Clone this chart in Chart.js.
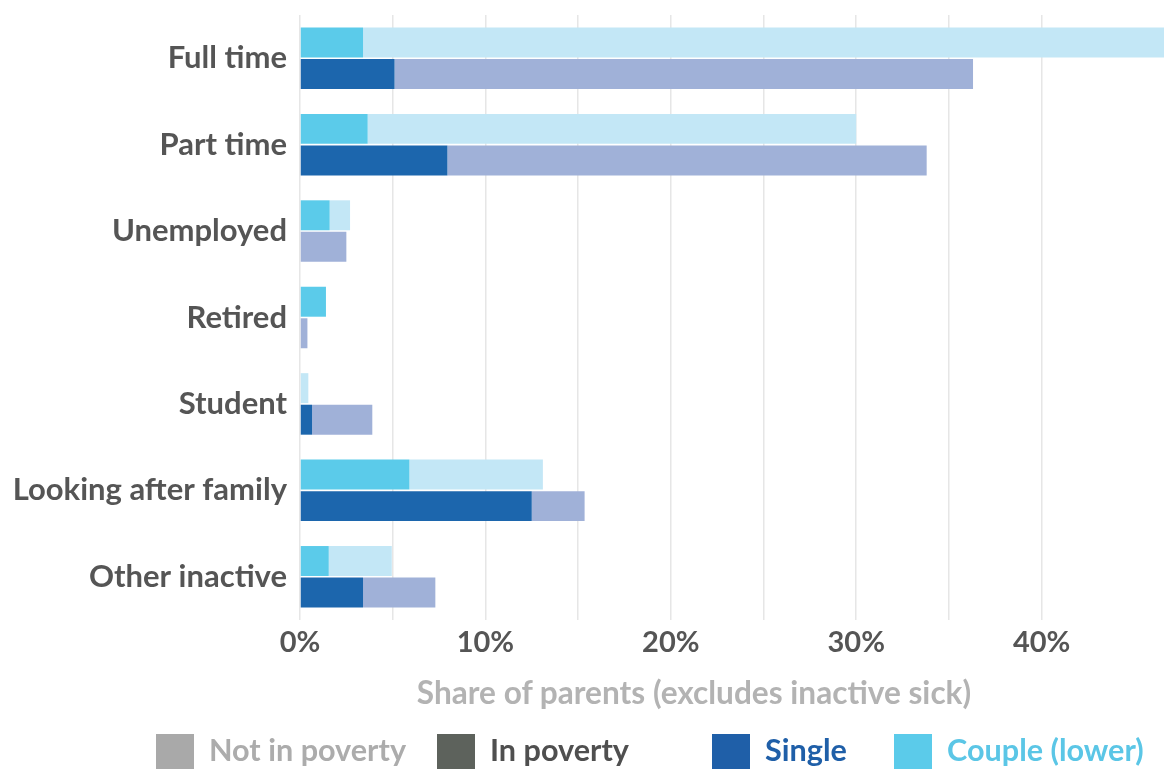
<!DOCTYPE html>
<html>
<head>
<meta charset="utf-8">
<script src="https://cdn.jsdelivr.net/npm/chart.js@4.4.1/dist/chart.umd.min.js"></script>
<style>
  html, body { margin: 0; padding: 0; background: #fff; }
  #wrap { position: relative; width: 1164px; height: 769px; overflow: hidden; }
  #chart { position: absolute; left: 0; top: 0; }
  .axis-title { position: absolute; top: 673px; left: 694px; transform: translateX(-50%);
    white-space: nowrap; line-height: 38px; color: #b3b3b3;
    font-family: Lato, sans-serif; font-weight: bold; font-size: 31.6px; }
  .legend { position: absolute; top: 734px; left: 0; width: 1164px; height: 40px;
    font-family: Lato, sans-serif; font-weight: bold; font-size: 30.6px; }
  .legend .item { position: absolute; top: 0; display: flex; align-items: flex-start; white-space: nowrap; }
  .legend .box { width: 38px; height: 38px; margin-right: 15px; }
  .legend .txt { line-height: 38px; margin-top: -3px; }
</style>
</head>
<body>
<div id="wrap">
  <canvas id="chart" width="1164" height="769"></canvas>
  <div class="axis-title">Share of parents (excludes inactive sick)</div>
  <div class="legend">
    <div class="item" style="left:156px"><div class="box" style="background:#a9a9a9"></div><span class="txt" style="color:#acacac">Not in poverty</span></div>
    <div class="item" style="left:437px"><div class="box" style="background:#5d625c"></div><span class="txt" style="color:#4f4f4f">In poverty</span></div>
    <div class="item" style="left:712px"><div class="box" style="background:#1f5fa8"></div><span class="txt" style="color:#1f5fa8">Single</span></div>
    <div class="item" style="left:894px"><div class="box" style="background:#5bcbea"></div><span class="txt" style="color:#5bc6e6">Couple (lower)</span></div>
  </div>
</div>
<script>
const categories = ['Full time', 'Part time', 'Unemployed', 'Retired', 'Student', 'Looking after family', 'Other inactive'];

// share of parents, % (in poverty + not in poverty = total bar)
const coupleInPoverty    = [3.4, 3.65, 1.6, 1.4, 0, 5.9, 1.55];
const coupleNotInPoverty = [43.6, 26.35, 1.1, 0, 0.45, 7.2, 3.4];
const singleInPoverty    = [5.1, 7.95, 0, 0, 0.65, 12.5, 3.4];
const singleNotInPoverty = [31.2, 25.85, 2.5, 0.4, 3.25, 2.85, 3.9];

const xTicks = [0, 10, 20, 30, 40];
const xMax = 46.6;

const FONT = 'Lato, sans-serif';

const ctx = document.getElementById('chart').getContext('2d');

new Chart(ctx, {
  type: 'bar',
  data: {
    labels: categories,
    datasets: [
      { label: 'Couple in poverty', data: coupleInPoverty, backgroundColor: '#5bcbea', stack: 'couple' },
      { label: 'Couple not in poverty', data: coupleNotInPoverty, backgroundColor: '#c3e7f6', stack: 'couple' },
      { label: 'Single in poverty', data: singleInPoverty, backgroundColor: '#1c66ad', stack: 'single' },
      { label: 'Single not in poverty', data: singleNotInPoverty, backgroundColor: '#a0b1d8', stack: 'single' }
    ]
  },
  options: {
    indexAxis: 'y',
    responsive: false,
    animation: false,
    categoryPercentage: 0.73,
    barPercentage: 0.95,
    layout: { padding: { top: 15, bottom: 58, right: 0, left: 0 } },
    plugins: {
      legend: { display: false },
      tooltip: { enabled: false }
    },
    scales: {
      x: {
        stacked: true,
        min: 0,
        max: xMax,
        // fixed box: the axis title sits in the page below the tick labels
        afterFit: s => {
          s.height = 91;
          s.paddingLeft = 0;
          s.paddingRight = 0;
        },
        border: { display: false },
        grid: {
          drawTicks: false,
          lineWidth: 1.5,
          color: c => (c.tick && c.tick.value % 5 === 0) ? '#e6e6e6' : 'rgba(0,0,0,0)'
        },
        ticks: {
          stepSize: 5,
          padding: 5,
          color: '#555',
          font: { family: FONT, size: 29, weight: 'bold' },
          callback: v => xTicks.includes(v) ? v + '%' : ''
        }
      },
      y: {
        stacked: true,
        afterFit: s => {
          s.width = 300;
          s.paddingTop = 0;
          s.paddingBottom = 0;
        },
        border: { display: false },
        grid: { display: false, drawTicks: false },
        ticks: {
          padding: 13,
          color: '#555',
          font: { family: FONT, size: 31, weight: 'bold' }
        }
      }
    }
  }
});
</script>
</body>
</html>
